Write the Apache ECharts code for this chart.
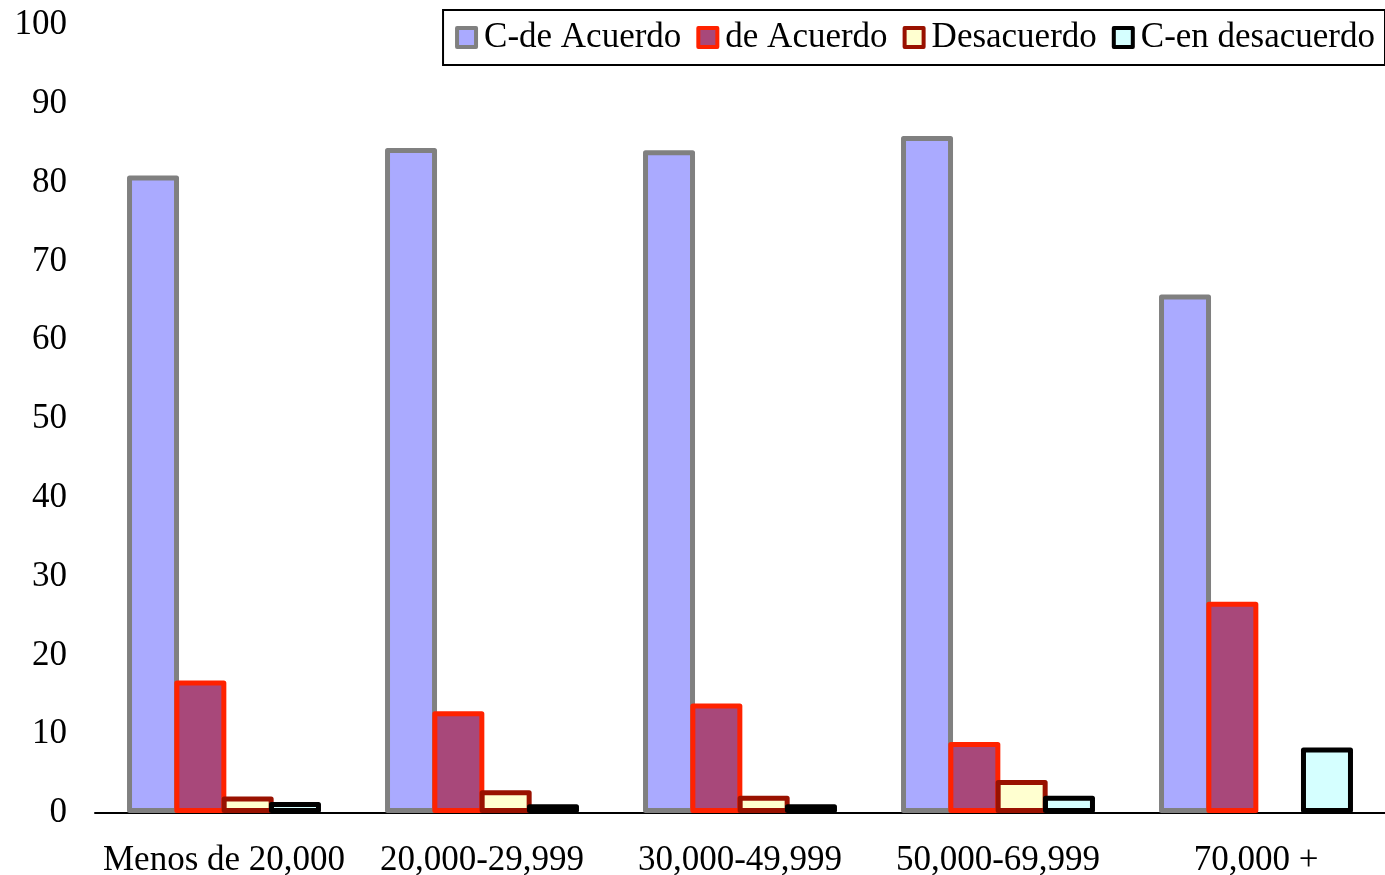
<!DOCTYPE html>
<html><head><meta charset="utf-8">
<script src="https://cdn.jsdelivr.net/npm/echarts@6/dist/echarts.min.js"></script>
<style>html,body{margin:0;padding:0;background:#fff}#c{width:1385px;height:875px}</style>
</head><body><div id="c"></div>
<script>
const categories = ['Menos de 20,000', '20,000-29,999', '30,000-49,999', '50,000-69,999', '70,000 +'];
const cDeAcuerdo = [80.9, 84.4, 84.1, 85.9, 65.8];
const deAcuerdo = [16.8, 12.9, 13.9, 9.0, 26.8];
const desacuerdo = [2.1, 2.9, 2.2, 4.2, null];
const cEnDesacuerdo = [1.4, 1.1, 1.1, 2.2, 8.3];
const yTicks = [0, 10, 20, 30, 40, 50, 60, 70, 80, 90, 100];

const font = '"Liberation Serif", "DejaVu Serif", serif';
function s(name, data, fill, border) {
  return {
    name, type: 'bar', data, barWidth: 52, barGap: '-9%',
    itemStyle: { color: fill, borderColor: border, borderWidth: 5, borderJoin: 'round' },
    emphasis: { disabled: true }
  };
}
const chart = echarts.init(document.getElementById('c'));
chart.setOption({
  animation: false,
  textStyle: { fontFamily: font },
  grid: { left: 95, right: 0, top: 25, bottom: 62, containLabel: false, outerBoundsMode: 'none' },
  legend: {
    right: 0, top: 10, padding: [10, 10, 10, 12],
    borderColor: '#000', borderWidth: 2,
    itemWidth: 19, itemHeight: 19, itemGap: 15,
    icon: 'rect',
    itemStyle: { borderWidth: 4 },
    textStyle: { fontFamily: font, fontSize: 35, color: '#000', padding: [0, 0, 0, 3] },
    data: ['C-de Acuerdo', 'de Acuerdo', 'Desacuerdo', 'C-en desacuerdo']
  },
  xAxis: {
    type: 'category', data: categories,
    axisLine: { lineStyle: { color: '#000', width: 2 } },
    axisTick: { show: false },
    axisLabel: { fontFamily: font, fontSize: 35, color: '#000', margin: 30, interval: 0 }
  },
  yAxis: {
    type: 'value', min: yTicks[0], max: yTicks[yTicks.length - 1], interval: 10,
    splitLine: { show: false },
    axisLine: { show: false }, axisTick: { show: false },
    axisLabel: { fontFamily: font, fontSize: 35, color: '#000', margin: 28, padding: [5, 0, 0, 0] }
  },
  series: [
    s('C-de Acuerdo', cDeAcuerdo, '#AAAAFF', '#808080'),
    s('de Acuerdo', deAcuerdo, '#A8487A', '#FF2200'),
    s('Desacuerdo', desacuerdo, '#FFFFD0', '#991100'),
    s('C-en desacuerdo', cEnDesacuerdo, '#D5FFFF', '#000000')
  ]
});
</script></body></html>
